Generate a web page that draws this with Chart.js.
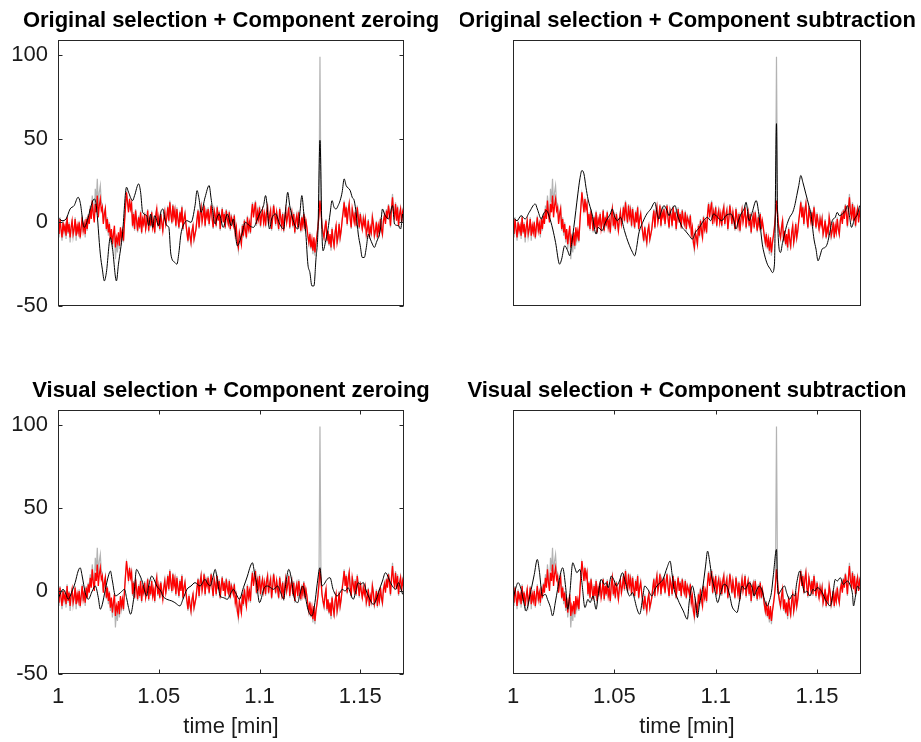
<!DOCTYPE html>
<html lang="en">
<head>
<meta charset="UTF-8">
<title>Original vs visual selection, component zeroing vs subtraction</title>
<script src="https://cdn.jsdelivr.net/npm/chart.js@4.4.1/dist/chart.umd.min.js"></script>
<style>
    body { margin: 0; background: #ffffff; }
    #wrap { position: relative; width: 921px; height: 742px; overflow: hidden; }
    #wrap canvas { position: absolute; }
</style>
</head>
<body>
<div id="wrap">
    <canvas id="c1" width="460" height="360" style="left:0;top:0"></canvas>
    <canvas id="c2" width="461" height="360" style="left:460px;top:0"></canvas>
    <canvas id="c3" width="460" height="382" style="left:0;top:360px"></canvas>
    <canvas id="c4" width="461" height="382" style="left:460px;top:360px"></canvas>
</div>

<script>
    // --- data ---
    // evenly sampled traces: time = T0 + i * DT  [min]
    const T0 = 1.0, DT = 0.0005;
    const X_MIN = 1.0, X_MAX = 1.1717;
    const Y_MIN = -50, Y_MAX = 109;
    const xTickValues = [1, 1.05, 1.1, 1.15];
    const yTickValues = [-50, 0, 50, 100];

    const titles = [
        'Original selection + Component zeroing',
        'Original selection + Component subtraction',
        'Visual selection + Component zeroing',
        'Visual selection + Component subtraction'
    ];
    const xLabel = 'time [min]';

    // raw signal (gray)
    const raw = [
        -2,-9,3,-5,-11,1,-6,-1,-10,4,-7,0,-12,-4,2,-9,-5,3,-11,-1,-7,1,-10,-4,4,-6,0,-9,3,-5,
        5,0,10,4,16,8,2,20,12,26,10,18,22,12,
        11,0,6,9,-5,3,-8,0,-12,-5,-16,-9,-4,-22,-12,-18,-8,-16,-4,-11,-6,-12,
        1,10,17,13,7,13,9,12,
        -3,6,-5,8,2,-6,4,-4,7,-7,3,-2,6,-5,1,8,-6,4,-3,7,-4,2,-7,5,9,-3,4,-5,6,1,-6,3,7,-2,
        4,10,0,13,6,-1,11,4,8,-3,9,3,-4,7,1,10,-5,3,6,-2,
        -7,-12,-2,-9,-13,-6,-1,-11,-8,-3,
        3,8,-4,6,10,1,5,11,-3,7,4,9,-2,6,11,3,-4,8,5,-3,10,2,7,-5,4,9,1,6,-4,8,3,-2,7,-5,4,2,
        -1,5,-8,-4,-13,-17,-7,-10,-14,-1,-9,2,-6,-10,4,-5,1,-7,
        6,12,4,9,13,-2,7,3,10,-3,5,8,1,6,
        -3,7,10,-2,5,8,-5,3,11,6,-2,7,2,-5,9,4,-3,6,-6,3,8,1,5,10,-4,4,7,-3,6,-7,2,5,-4,7,1,-6,4,-3,6,-5,2,-4,
        -9,-13,-6,-16,-11,-19,-10,-20,-13,-7,
        -2,5,99,8,-1,-7,
        -10,-2,2,-12,-6,-14,-8,-17,-3,-11,-16,-7,-1,-13,-9,0,-10,-6,
        2,7,13,4,10,-2,8,12,3,-4,9,5,1,7,-3,10,4,-4,6,1,-5,3,
        -1,3,-8,-5,2,-10,-4,-7,4,0,-9,-6,1,-10,-1,-7,3,-5,-8,2,
        5,0,8,3,11,6,-3,9,17,7,4,12,2,10,-3,6,9,1,7,4
    ];

    // red trace
    const redTrace = [
        -1,-7,2,-4,-9,0,-5,-2,-8,3,-6,-1,-9,-3,1,-7,-4,2,-8,-2,-6,0,-9,-3,3,-5,-1,-7,2,-4,
        4,-1,8,2,13,5,0,11,6,16,3,10,14,7,
        9,-1,5,8,-4,2,-6,-1,-10,-4,-13,-7,-2,-15,-9,-12,-6,-14,-3,-9,-5,-11,
        0,9,18,12,6,14,8,11,
        -2,5,-4,7,1,-5,3,-3,6,-6,2,-1,5,-4,0,7,-5,3,-2,6,-3,1,-6,4,8,-2,3,-4,5,0,-5,2,6,-1,
        3,9,1,12,5,0,10,3,7,-2,8,2,-3,6,0,9,-4,2,5,-1,
        -6,-11,-3,-8,-12,-5,-2,-10,-7,-4,
        2,7,-3,5,9,0,4,10,-2,6,3,8,-1,5,10,2,-3,7,4,-2,9,1,6,-4,3,8,0,5,-3,7,2,-1,6,-4,3,1,
        -2,4,-7,-3,-12,-15,-6,-9,-13,-2,-8,1,-5,-9,3,-4,0,-6,
        5,11,3,8,12,-1,6,2,9,-2,4,7,0,5,
        -2,6,9,-1,4,7,-4,2,10,5,-1,6,1,-4,8,3,-2,5,-5,2,7,0,4,9,-3,3,6,-2,5,-6,1,4,-3,6,0,-5,3,-2,5,-4,1,-3,
        -8,-12,-7,-15,-10,-17,-9,-18,-12,-8,
        -3,4,13,6,-2,-6,
        -9,-3,1,-11,-5,-13,-7,-15,-4,-10,-14,-6,-2,-12,-8,-1,-9,-5,
        1,6,12,3,9,-1,7,11,2,-3,8,4,0,6,-2,9,3,-3,5,0,-4,2,
        -2,2,-7,-4,1,-9,-3,-6,3,-1,-8,-5,0,-9,-2,-6,2,-4,-7,1,
        4,-1,7,2,10,5,-2,8,15,6,3,11,1,9,-2,5,8,0,6,3
    ];

    // black traces, [time, value]
    const blackOrigZero = [
        [1.000,3],[1.002,1],[1.004,2],[1.006,8],[1.008,10],[1.010,15],[1.011,12],[1.013,-3],[1.015,3],[1.016,8],
        [1.018,14],[1.019,10],[1.021,-19],[1.022,-28],[1.023,-35],[1.024,-30],[1.026,-9],[1.027,-15],[1.029,-35],[1.030,-25],
        [1.032,-7],[1.034,21],[1.035,18],[1.037,13],[1.038,16],[1.040,23],[1.041,18],[1.042,6],[1.044,4],[1.045,-2],
        [1.046,5],[1.047,-3],[1.048,4],[1.050,-2],[1.051,6],[1.052,8],[1.053,2],[1.054,-2],[1.055,-3],[1.056,-19],
        [1.058,-24],[1.059,-25],[1.060,-18],[1.061,-7],[1.063,0],[1.064,1],[1.066,0],[1.068,10],[1.069,19],[1.070,14],
        [1.071,6],[1.073,15],[1.075,22],[1.076,14],[1.078,-1],[1.079,3],[1.080,5],[1.082,-3],[1.084,5],[1.086,-2],
        [1.087,2],[1.089,-14],[1.091,-8],[1.093,0],[1.095,-2],[1.097,-3],[1.099,2],[1.100,5],[1.102,10],[1.103,16],
        [1.105,-4],[1.106,2],[1.108,5],[1.110,-1],[1.112,-4],[1.113,8],[1.114,18],[1.115,10],[1.117,0],[1.119,-4],
        [1.120,5],[1.121,16],[1.122,5],[1.123,-7],[1.124,-25],[1.125,-30],[1.126,-38],[1.127,-38],[1.128,-22],[1.129,-5],
        [1.130,49],[1.131,-7],[1.1315,-17],[1.133,-10],[1.134,-4],[1.135,5],[1.136,13],[1.137,9],[1.138,8],[1.139,10],
        [1.140,13],[1.141,18],[1.142,26],[1.143,22],[1.145,19],[1.146,15],[1.147,13],[1.148,5],[1.149,-7],[1.150,-14],
        [1.151,-21],[1.152,-21],[1.153,-15],[1.154,-7],[1.155,-10],[1.156,-13],[1.157,-15],[1.158,-12],[1.160,-4],[1.161,8],
        [1.162,5],[1.164,2],[1.165,6],[1.166,10],[1.167,-1],[1.169,-2],[1.170,-4],[1.171,5]
    ];

    const blackOrigSub = [
        [1.000,3],[1.002,1],[1.004,4],[1.006,2],[1.008,6],[1.011,11],[1.012,8],[1.014,2],[1.015,5],[1.0165,7],
        [1.018,3],[1.0196,-4],[1.021,-12],[1.023,-25],[1.024,-22],[1.0255,-14],[1.027,-17],[1.028,-20],[1.029,-12],[1.030,-3],
        [1.032,17],[1.033,26],[1.034,31],[1.035,29],[1.036,21],[1.037,14],[1.039,5],[1.041,-7],[1.042,-3],[1.044,-5],
        [1.045,-2],[1.046,1],[1.048,5],[1.049,8],[1.050,4],[1.0515,1],[1.053,3],[1.055,-5],[1.056,-9],[1.0575,-14],
        [1.059,-18],[1.060,-20],[1.061,-15],[1.062,-7],[1.064,0],[1.066,5],[1.068,8],[1.070,12],[1.071,6],[1.072,2],
        [1.073,6],[1.0745,10],[1.076,7],[1.077,4],[1.078,7],[1.080,10],[1.081,5],[1.0835,-3],[1.085,-5],[1.087,-8],
        [1.0885,-10],[1.090,-6],[1.092,-3],[1.094,1],[1.096,3],[1.0975,1],[1.099,5],[1.101,3],[1.103,1],[1.105,4],
        [1.1075,5],[1.109,1],[1.110,-4],[1.111,0],[1.1125,5],[1.114,8],[1.115,12],[1.1165,1],[1.118,6],[1.120,13],
        [1.1215,3],[1.123,-13],[1.124,-19],[1.1255,-25],[1.127,-28],[1.128,-30],[1.129,-25],[1.130,59],[1.1305,3],[1.132,-18],
        [1.133,-12],[1.134,-7],[1.135,-2],[1.1365,3],[1.138,6],[1.139,10],[1.140,16],[1.141,22],[1.142,28],[1.143,24],
        [1.1445,17],[1.146,10],[1.147,5],[1.1485,-10],[1.1495,-16],[1.1505,-23],[1.1515,-20],[1.1525,-16],[1.154,-15],[1.155,-13],
        [1.156,-8],[1.1575,1],[1.159,3],[1.160,6],[1.161,4],[1.1625,5],[1.164,7],[1.165,10],[1.166,4],[1.167,-3],
        [1.1685,2],[1.170,5],[1.171,10]
    ];

    const blackVisZero = [
        [1.000,-5],[1.001,-2],[1.0025,1],[1.004,-2],[1.005,-5],[1.007,0],[1.0085,5],[1.010,12],[1.011,14],[1.012,9],
        [1.0135,-1],[1.015,-5],[1.017,0],[1.0185,3],[1.020,-4],[1.021,-11],[1.022,-8],[1.0235,1],[1.025,9],[1.026,12],
        [1.027,6],[1.0285,-3],[1.030,-2],[1.031,-1],[1.033,1],[1.034,-4],[1.035,-10],[1.036,-14],[1.0375,-5],[1.039,13],
        [1.040,11],[1.042,5],[1.043,0],[1.044,-3],[1.045,3],[1.0465,9],[1.048,6],[1.049,3],[1.051,0],[1.052,-3],
        [1.054,-5],[1.0565,-6],[1.058,-7],[1.0605,-9],[1.062,-5],[1.064,1],[1.066,3],[1.068,5],[1.0705,3],[1.073,7],
        [1.074,5],[1.0755,3],[1.077,9],[1.078,13],[1.079,7],[1.0805,-3],[1.082,-4],[1.084,-5],[1.0855,-2],[1.087,1],
        [1.0885,-2],[1.090,-5],[1.092,2],[1.094,9],[1.0955,15],[1.0965,17],[1.0975,11],[1.0985,5],[1.100,-7],[1.101,-4],
        [1.102,1],[1.104,3],[1.1055,2],[1.107,1],[1.109,3],[1.1105,-1],[1.112,-5],[1.113,4],[1.1145,13],[1.116,6],
        [1.117,-3],[1.119,-7],[1.120,-2],[1.1215,3],[1.123,-5],[1.124,-11],[1.126,-15],[1.1275,-7],[1.1285,3],[1.130,14],
        [1.131,3],[1.132,4],[1.1335,7],[1.135,8],[1.1365,1],[1.1385,-3],[1.140,-1],[1.141,1],[1.1425,0],[1.144,2],
        [1.145,-1],[1.1465,-5],[1.148,1],[1.149,5],[1.150,4],[1.1515,5],[1.153,0],[1.154,-3],[1.1565,-8],[1.158,-5],
        [1.159,-1],[1.161,6],[1.1625,11],[1.164,8],[1.165,5],[1.1665,2],[1.1675,1],[1.169,5],[1.170,2],[1.171,-2]
    ];

    const blackVisSub = [
        [1.000,-5],[1.001,0],[1.0025,5],[1.004,1],[1.005,-5],[1.0065,-12],[1.008,-5],[1.009,1],[1.0105,10],[1.012,19],
        [1.013,12],[1.0145,-3],[1.016,-2],[1.017,-5],[1.0185,-10],[1.0195,-15],[1.021,-6],[1.022,1],[1.023,8],[1.0245,14],
        [1.026,2],[1.027,-11],[1.028,-2],[1.0295,17],[1.0305,14],[1.0315,11],[1.033,13],[1.034,5],[1.0355,-10],[1.037,-5],
        [1.038,-7],[1.0395,-3],[1.041,-11],[1.042,-3],[1.0435,7],[1.045,4],[1.046,5],[1.047,2],[1.0485,9],[1.050,6],
        [1.051,3],[1.0525,6],[1.054,11],[1.0555,5],[1.0575,-3],[1.059,-1],[1.060,-5],[1.061,-10],[1.0625,-14],[1.064,-4],
        [1.065,3],[1.0665,1],[1.0685,-3],[1.070,1],[1.071,3],[1.0725,5],[1.074,7],[1.076,14],[1.0775,18],[1.0785,10],
        [1.0795,1],[1.081,-4],[1.082,-7],[1.084,-12],[1.086,-17],[1.087,-6],[1.0885,3],[1.090,-6],[1.091,-16],[1.092,-8],
        [1.0935,1],[1.095,15],[1.096,24],[1.097,18],[1.098,9],[1.0995,1],[1.101,-7],[1.102,-3],[1.103,1],[1.104,4],
        [1.1055,3],[1.107,-3],[1.108,-9],[1.1095,-12],[1.1105,-13],[1.112,-4],[1.113,3],[1.1145,1],[1.1165,5],[1.118,2],
        [1.119,-3],[1.120,0],[1.1215,3],[1.123,0],[1.124,-5],[1.1255,-9],[1.1265,-6],[1.1275,-1],[1.1285,10],[1.130,25],
        [1.1305,3],[1.131,-2],[1.132,0],[1.134,3],[1.135,-1],[1.1365,-5],[1.138,-2],[1.139,-3],[1.140,5],[1.1415,12],
        [1.1425,6],[1.144,-1],[1.145,0],[1.1465,-3],[1.148,1],[1.149,0],[1.150,2],[1.1515,1],[1.153,-2],[1.154,-5],
        [1.155,-7],[1.1565,-9],[1.158,0],[1.159,7],[1.160,6],[1.1615,8],[1.163,4],[1.164,5],[1.165,6],[1.1665,3],
        [1.1675,-2],[1.168,-9],[1.169,-3],[1.170,3],[1.171,1]
    ];

    // --- drawing ---
    const FONT = '"Liberation Sans", Arial, Helvetica, sans-serif';
    const AXIS_COLOR = '#262626';
    Chart.defaults.font.family = FONT;
    Chart.defaults.color = '#1a1a1a';

    // box, inward tick marks, panel title and x label (MATLAB-like axes)
    const framePlugin = {
        id: 'frame',
        afterDraw(chart, args, opts) {
            const { ctx, chartArea: a, scales } = chart;
            const L = Math.round(a.left) + 0.5, R = Math.round(a.right) - 0.5;
            const T = Math.round(a.top) + 0.5, B = Math.round(a.bottom) - 0.5;
            ctx.save();
            ctx.strokeStyle = AXIS_COLOR;
            ctx.lineWidth = 1;
            ctx.strokeRect(L, T, R - L, B - T);
            ctx.beginPath();
            if (opts.yTicks) {
                yTickValues.forEach(v => {
                    const py = Math.round(scales.y.getPixelForValue(v)) + 0.5;
                    ctx.moveTo(L, py); ctx.lineTo(L + 4, py);
                    ctx.moveTo(R, py); ctx.lineTo(R - 4, py);
                });
            }
            if (opts.xTicks) {
                xTickValues.forEach(v => {
                    const px = Math.round(scales.x.getPixelForValue(v)) + 0.5;
                    ctx.moveTo(px, T); ctx.lineTo(px, T + 4);
                    ctx.moveTo(px, B); ctx.lineTo(px, B - 4);
                });
            }
            ctx.stroke();

            ctx.fillStyle = '#000';
            ctx.textAlign = 'center';
            ctx.textBaseline = 'middle';
            const cx = (a.left + a.right) / 2;
            ctx.font = 'bold 22px ' + FONT;
            ctx.fillText(opts.title, cx, opts.titleY);
            if (opts.xLabel) {
                ctx.fillStyle = '#1a1a1a';
                ctx.font = '22px ' + FONT;
                ctx.fillText(opts.xLabel, cx, opts.xLabelY);
            }
            ctx.restore();
        }
    };

    function makePanel(canvasId, cfg) {
        const datasets = [
            {
                label: 'cleaned', data: cfg.black.map(p => ({ x: p[0], y: p[1] })),
                borderColor: '#000000', borderWidth: 1, cubicInterpolationMode: 'monotone'
            },
            {
                label: 'red', data: redTrace.map((v, i) => ({ x: T0 + i * DT, y: v })),
                borderColor: '#ff0000', borderWidth: 1.3
            },
            {
                label: 'raw', data: raw.map((v, i) => ({ x: T0 + i * DT, y: v })),
                borderColor: '#b3b3b3', borderWidth: 1.2
            }
        ];

        return new Chart(document.getElementById(canvasId), {
            type: 'line',
            data: { datasets },
            options: {
                responsive: false,
                animation: false,
                events: [],
                layout: { padding: cfg.padding },
                elements: { point: { radius: 0 }, line: { tension: 0, fill: false } },
                plugins: {
                    legend: { display: false },
                    tooltip: { enabled: false },
                    frame: {
                        title: cfg.title, titleY: cfg.titleY,
                        yTicks: cfg.showY, xTicks: cfg.showX,
                        xLabel: cfg.showX ? xLabel : null, xLabelY: cfg.xLabelY
                    }
                },
                scales: {
                    x: {
                        type: 'linear', min: X_MIN, max: X_MAX,
                        display: cfg.showX,
                        grid: { display: false, drawTicks: false },
                        border: { display: false },
                        ticks: {
                            stepSize: 0.05, includeBounds: false, autoSkip: false, maxRotation: 0,
                            padding: 10, font: { size: 22 },
                            callback: v => String(+v.toFixed(2))
                        },
                        afterFit: s => { if (cfg.showX) s.height = 68; }
                    },
                    y: {
                        type: 'linear', min: Y_MIN, max: Y_MAX,
                        display: cfg.showY,
                        grid: { display: false, drawTicks: false },
                        border: { display: false },
                        ticks: {
                            stepSize: 50, includeBounds: false, padding: 10, font: { size: 22 },
                            callback: v => String(v)
                        },
                        afterFit: s => { if (cfg.showY) s.width = 58; }
                    }
                }
            },
            plugins: [framePlugin]
        });
    }

    makePanel('c1', {
        black: blackOrigZero, title: titles[0], titleY: 21,
        showX: false, showY: true,
        padding: { left: 0, top: 40, right: 56, bottom: 54 }
    });
    makePanel('c2', {
        black: blackOrigSub, title: titles[1], titleY: 21,
        showX: false, showY: false,
        padding: { left: 53, top: 40, right: 60, bottom: 54 }
    });
    makePanel('c3', {
        black: blackVisZero, title: titles[2], titleY: 31,
        showX: true, showY: true, xLabelY: 367,
        padding: { left: 0, top: 50, right: 56, bottom: 0 }
    });
    makePanel('c4', {
        black: blackVisSub, title: titles[3], titleY: 31,
        showX: true, showY: false, xLabelY: 367,
        padding: { left: 53, top: 50, right: 60, bottom: 0 }
    });
</script>
</body>
</html>
